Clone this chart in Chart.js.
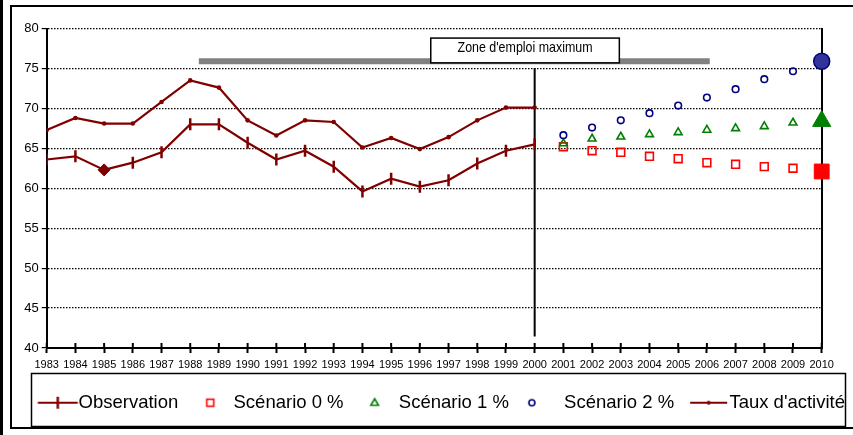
<!DOCTYPE html>
<html><head><meta charset="utf-8">
<script src="https://cdn.jsdelivr.net/npm/chart.js@4/dist/chart.umd.min.js"></script>
<style>
html,body{margin:0;padding:0;background:#fff;}
#wrap{position:relative;width:853px;height:435px;overflow:hidden;background:#fff;}
#edge{position:absolute;left:0;top:0;width:3px;height:435px;background:#000;}
#frame{position:absolute;left:10px;top:5px;width:900px;height:420px;border:2px solid #000;border-right:none;}
canvas{position:absolute;left:0;top:0;}
</style></head><body>
<div id="wrap"><div id="edge"></div><div id="frame"></div><canvas id="c" width="853" height="435"></canvas></div>
<script>
// ---- data ----
const years = [1983,1984,1985,1986,1987,1988,1989,1990,1991,1992,1993,1994,1995,1996,1997,1998,1999,2000,2001,2002,2003,2004,2005,2006,2007,2008,2009,2010];
const obsYears = [1983,1984,1985,1986,1987,1988,1989,1990,1991,1992,1993,1994,1995,1996,1997,1998,1999,2000];
const observation = [63.6,64.0,62.3,63.2,64.5,68.0,68.0,65.7,63.6,64.7,62.7,59.6,61.2,60.2,61.0,63.1,64.7,65.5];
const tauxActivite = [67.3,68.8,68.1,68.1,70.8,73.5,72.6,68.5,66.6,68.5,68.3,65.1,66.3,64.9,66.4,68.5,70.1,70.1];
const scenYears = [2001,2002,2003,2004,2005,2006,2007,2008,2009,2010];
const scenario0 = [65.2,64.7,64.5,64.0,63.7,63.2,63.0,62.7,62.5,62.1];
const scenario1 = [65.6,66.2,66.45,66.75,67.0,67.3,67.5,67.75,68.2,68.4];
const scenario2 = [66.65,67.6,68.5,69.4,70.35,71.35,72.4,73.65,74.65,75.9];
const seriesNames = ['Observation','Scénario 0 %','Scénario 1 %','Scénario 2 %',"Taux d'activité"];
const yTicks = [40,45,50,55,60,65,70,75,80];
const diamondYear = 1985;
const finalYear = 2010;
const zoneLabel = "Zone d'emploi maximum";
const zoneSpan = [1988.3, 2006.1];
const zoneLevel = 75.9;
const zoneBox = [1996.38, 2002.95, 78.8, 75.7];
const dividerYear = 2000;
const dividerSpan = [75.05, 41.45];

// ---- style ----
const FONT = "'Liberation Sans', Arial, Helvetica, sans-serif";
const DARK = '#800000', RED = '#FF0000', GREEN = '#008000', NAVY = '#000080';
Chart.defaults.font.family = FONT;
Chart.defaults.color = '#000';

function mkIcon(draw){ const c=document.createElement('canvas'); c.width=80; c.height=20; const g=c.getContext('2d'); draw(g,40,10); return c; }
const icons = [
  mkIcon((g,cx,cy)=>{ const x=cx+7.5; g.strokeStyle=DARK; g.lineWidth=2; g.beginPath(); g.moveTo(x-20,cy); g.lineTo(x+20,cy); g.stroke(); g.lineWidth=2.5; g.beginPath(); g.moveTo(x,cy-6); g.lineTo(x,cy+6); g.stroke(); }),
  mkIcon((g,cx,cy)=>{ const x=cx+5; g.strokeStyle=RED; g.lineWidth=1.6; g.strokeRect(x-3.5,cy-3.5,7,7); }),
  mkIcon((g,cx,cy)=>{ const x=cx+4; g.strokeStyle=GREEN; g.lineWidth=1.6; g.beginPath(); g.moveTo(x,cy-4); g.lineTo(x+3.8,cy+2.5); g.lineTo(x-3.8,cy+2.5); g.closePath(); g.stroke(); }),
  mkIcon((g,cx,cy)=>{ const x=cx-4; g.strokeStyle=NAVY; g.lineWidth=1.6; g.beginPath(); g.arc(x,cy,3,0,Math.PI*2); g.stroke(); }),
  mkIcon((g,cx,cy)=>{ const x=cx+7.5; g.strokeStyle=DARK; g.lineWidth=2; g.beginPath(); g.moveTo(x-18.5,cy); g.lineTo(x+18.5,cy); g.stroke(); g.fillStyle=DARK; g.beginPath(); g.arc(x,cy,2,0,Math.PI*2); g.fill(); })
];

const pts = (xs, ys) => xs.map((x,i)=>({x, y: ys[i]}));
const isFinal = scenYears.map(y => y === finalYear);

const decor = {
  id: 'decor',
  beforeDatasetsDraw(chart){
    const {ctx, scales:{x, y}} = chart;
    ctx.save();
    ctx.strokeStyle = '#000'; ctx.lineWidth = 2;
    years.forEach(yr => { const px = x.getPixelForValue(yr); ctx.beginPath(); ctx.moveTo(px, y.bottom); ctx.lineTo(px, y.bottom - 5); ctx.stroke(); });
    ctx.restore();
  },
  afterDatasetsDraw(chart){
    const {ctx, scales:{x, y}} = chart;
    const x0 = x.getPixelForValue(zoneBox[0]), x1 = x.getPixelForValue(zoneBox[1]);
    const y0 = y.getPixelForValue(zoneBox[2]), y1 = y.getPixelForValue(zoneBox[3]);
    ctx.save();
    ctx.fillStyle = '#fff'; ctx.fillRect(x0, y0, x1-x0, y1-y0);
    ctx.strokeStyle = '#000'; ctx.lineWidth = 1.5; ctx.strokeRect(x0, y0, x1-x0, y1-y0);
    ctx.font = "14.5px " + FONT; ctx.fillStyle = '#000'; ctx.textBaseline = 'middle';
    const w = ctx.measureText(zoneLabel).width; const target = 135; const s = target / w;
    ctx.translate((x0+x1)/2, y0 + 9.5); ctx.scale(s, 1); ctx.textAlign = 'center';
    ctx.fillText(zoneLabel, 0, 0);
    ctx.restore();
  },
  afterDraw(chart){
    const ctx = chart.ctx;
    ctx.save(); ctx.strokeStyle = '#000'; ctx.lineWidth = 1.5;
    ctx.strokeRect(31.5, 373.5, 814, 53);
    ctx.restore();
  }
};

new Chart(document.getElementById('c'), {
  type: 'line',
  data: { datasets: [
    { label: seriesNames[0], data: pts(obsYears, observation), borderColor: DARK, backgroundColor: DARK, borderWidth: 2.2, tension: 0,
      pointStyle: obsYears.map(y => y === diamondYear ? 'rectRot' : 'line'),
      pointRotation: obsYears.map(y => y === diamondYear ? 0 : 90),
      pointRadius: 6,
      pointBorderWidth: obsYears.map(y => y === diamondYear ? 1 : 2.5),
      pointBorderColor: DARK, pointBackgroundColor: DARK },
    { label: seriesNames[4], data: pts(obsYears, tauxActivite), borderColor: DARK, backgroundColor: DARK, borderWidth: 2.2, tension: 0,
      pointStyle: 'circle', pointRadius: 2.3, pointBorderWidth: 0, pointBackgroundColor: DARK },
    { label: seriesNames[3], data: pts(scenYears, scenario2), showLine: false, clip: false, pointStyle: 'circle',
      pointRadius: isFinal.map(f => f ? 8 : 3.3), pointBorderWidth: isFinal.map(f => f ? 1.5 : 1.6),
      pointBorderColor: NAVY, pointBackgroundColor: isFinal.map(f => f ? '#333399' : 'rgba(0,0,0,0)') },
    { label: seriesNames[2], data: pts(scenYears, scenario1), showLine: false, clip: false, pointStyle: 'triangle',
      pointRadius: isFinal.map(f => f ? 10.5 : 4.5), pointBorderWidth: isFinal.map(f => f ? 1 : 1.6),
      pointBorderColor: GREEN, pointBackgroundColor: isFinal.map(f => f ? GREEN : 'rgba(0,0,0,0)') },
    { label: seriesNames[1], data: pts(scenYears, scenario0), showLine: false, clip: false, pointStyle: 'rect',
      pointRadius: isFinal.map(f => f ? 10.5 : 5.5), pointBorderWidth: isFinal.map(f => f ? 1 : 1.6),
      pointBorderColor: RED, pointBackgroundColor: isFinal.map(f => f ? RED : 'rgba(0,0,0,0)') },
    { label: 'zone', data: [{x: zoneSpan[0], y: zoneLevel}, {x: zoneSpan[1], y: zoneLevel}], borderColor: '#808080', borderWidth: 6, borderCapStyle: 'butt', pointRadius: 0 },
    { label: 'divider', data: [{x: dividerYear, y: dividerSpan[0]}, {x: dividerYear, y: dividerSpan[1]}], borderColor: '#000', borderWidth: 2, pointRadius: 0 }
  ]},
  options: {
    responsive: false, animation: false, events: [],
    layout: { padding: { top: 28.5, left: 0, right: 0, bottom: 13 } },
    scales: {
      x: { type: 'linear', min: 1983, max: 2010,
        afterFit(s){ s.height = 37.5; },
        afterBuildTicks(s){ s.ticks = years.map(v => ({value: v})); },
        ticks: { autoSkip: false, maxRotation: 0, minRotation: 0, padding: 5, font: { size: 11 }, color: '#000', callback: v => String(v) },
        grid: { drawOnChartArea: false, drawTicks: true, tickLength: 5, tickColor: '#000', tickWidth: 2, color: '#000' },
        border: { display: true, color: '#000', width: 2 } },
      y: { type: 'linear', min: 40, max: 80, position: 'left',
        afterFit(s){ s.width = 46.7; },
        afterBuildTicks(s){ s.ticks = yTicks.map(v => ({value: v})); },
        ticks: { padding: 3, font: { size: 13 }, color: '#000' },
        grid: { color: '#000', lineWidth: 1.2, tickLength: 5, tickColor: '#000', tickWidth: 1.2, tickBorderDash: [] },
        border: { display: true, color: '#000', width: 2, dash: [1.5, 1.5] } },
      yr: { type: 'linear', min: 40, max: 80, position: 'right',
        afterFit(s){ s.width = 31.3; },
        ticks: { display: false }, grid: { display: false, drawTicks: false },
        border: { display: true, color: '#000', width: 2 } }
    },
    plugins: {
      tooltip: { enabled: false },
      legend: { position: 'bottom', align: 'end',
        labels: { usePointStyle: true, pointStyleWidth: 38, padding: 8, color: '#000', font: { size: 18.5 },
          generateLabels: () => seriesNames.map((t, i) => ({ text: t, pointStyle: icons[i], fillStyle: 'rgba(0,0,0,0)', strokeStyle: 'rgba(0,0,0,0)', lineWidth: 0, hidden: false, fontColor: '#000', datasetIndex: i })) } }
    }
  },
  plugins: [decor]
});
</script>
</body></html>
